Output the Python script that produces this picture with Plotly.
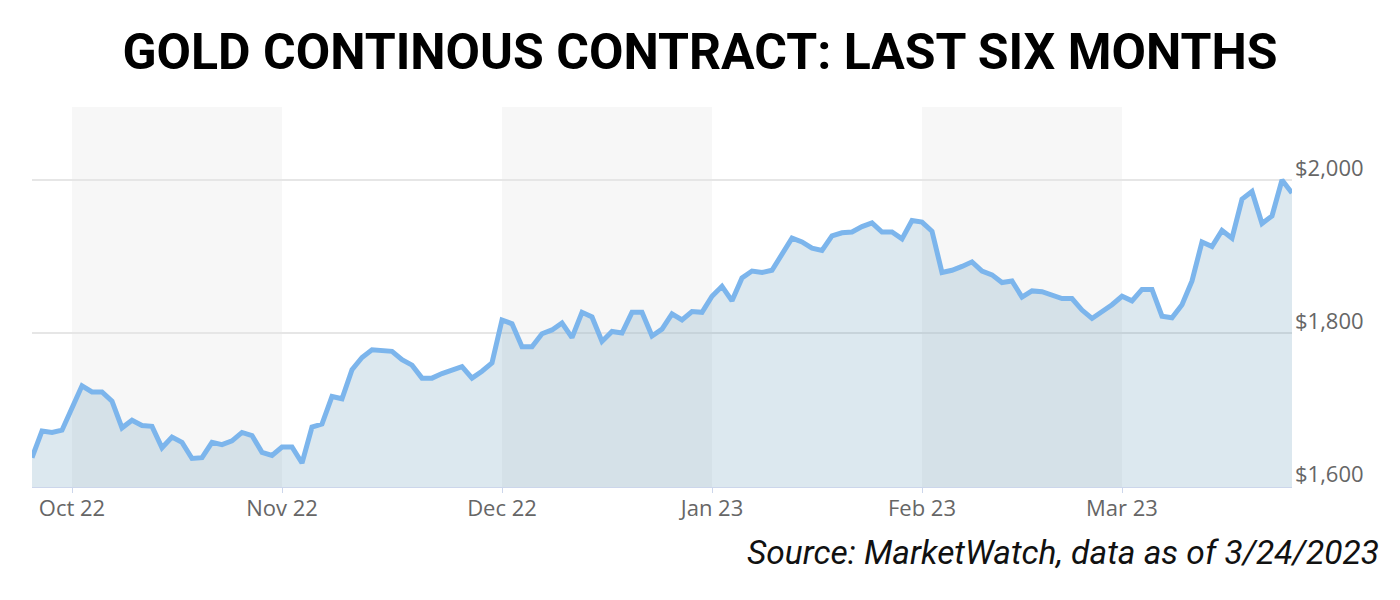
import pandas as pd
import plotly.graph_objects as go

# ---- data ----
start_date = "2022-09-27"
end_date = "2023-03-24"
closed_days = ["2022-12-26", "2023-01-02"]
prices = [
    1637, 1672, 1670, 1673, 1702, 1731, 1723, 1723, 1711, 1676,
    1686, 1679, 1678, 1650, 1664, 1657, 1636, 1637, 1657, 1654,
    1659, 1670, 1666, 1644, 1640, 1651, 1651, 1630, 1677, 1681,
    1717, 1714, 1752, 1768, 1778, 1777, 1776, 1765, 1758, 1741,
    1741, 1747, 1752, 1756, 1741, 1750, 1761, 1817, 1812, 1782,
    1782, 1799, 1804, 1813, 1794, 1827, 1821, 1789, 1802, 1800,
    1827, 1827, 1796, 1805, 1825, 1817, 1828, 1827, 1848, 1861,
    1842, 1872, 1881, 1879, 1882, 1903, 1924, 1919, 1911, 1908,
    1927, 1931, 1932, 1939, 1944, 1932, 1932, 1923, 1947, 1945,
    1933, 1879, 1882, 1887, 1893, 1881, 1876, 1866, 1868, 1847,
    1855, 1854, 1849, 1845, 1845, 1830, 1819, 1828, 1837, 1848,
    1842, 1857, 1857, 1822, 1820, 1837, 1868, 1919, 1913, 1934,
    1924, 1975, 1985, 1943, 1953, 2000, 1983,
]
band_starts = ["2022-10-01", "2022-12-01", "2023-02-01"]
band_ends = ["2022-11-01", "2023-01-03", "2023-03-01"]
y_ticks = [1600, 1800, 2000]

dates = [d for d in pd.bdate_range(start_date, end_date) if d.strftime("%Y-%m-%d") not in closed_days]
assert len(dates) == len(prices), (len(dates), len(prices))

# page has an 8px body margin, so the figure is 8px smaller and everything is offset
W, H = 1392, 592
L, R, T, B = 24, 108, 99, 113
plot_w = W - L - R
plot_h = H - T - B

fig = go.Figure()
fig.add_trace(go.Scatter(
    x=dates, y=prices, mode="lines",
    line=dict(color="#7cb5ec", width=5),
    fill="tozeroy", fillcolor="rgba(50,120,160,0.17)",
    hoverinfo="skip", showlegend=False,
))

for s, e in zip(band_starts, band_ends):
    fig.add_shape(type="rect", xref="x", yref="paper", x0=s, x1=e, y0=0, y1=1,
                  fillcolor="#f7f7f7", line=dict(width=0), layer="below")

fig.update_layout(
    width=W, height=H,
    margin=dict(l=L, r=R, t=T, b=B),
    paper_bgcolor="white", plot_bgcolor="white",
    title=dict(text="GOLD CONTINOUS CONTRACT: LAST SIX MONTHS",
               x=0.5 - 4 / W, xref="container", xanchor="center",
               y=1 - 43 / H, yref="container", yanchor="middle",
               font=dict(family="Roboto", size=50, color="#000000", weight="bold")),
    font=dict(family="Open Sans", color="#666666"),
)

fig.update_xaxes(
    type="date", range=[start_date, end_date],
    rangebreaks=[dict(bounds=["sat", "mon"]), dict(values=closed_days)],
    tick0="2022-10-01", dtick="M1", tickformat="%b %y",
    showgrid=False, zeroline=False,
    showline=True, linecolor="#ccd6eb", linewidth=1,
    ticks="outside", ticklen=5, tickcolor="#ccd6eb", tickwidth=1,
    ticklabelstandoff=-3,
    tickfont=dict(family="Open Sans", size=22, color="#666666"),
)
fig.update_yaxes(
    side="right", range=[1598.7, 2095.4],
    tickvals=y_ticks, tickformat="$,.0f",
    showgrid=True, gridcolor="#e6e6e6", gridwidth=2,
    zeroline=False, showline=False, ticks="",
    ticklabelstandoff=2, ticklabelshift=-12,
    tickfont=dict(family="Open Sans", size=22, color="#666666"),
)

fig.add_annotation(
    text="Source: MarketWatch, data as of 3/24/2023",
    xref="paper", yref="paper", x=1 + (1373 - (W - R)) / plot_w, y=(H - B - 544) / plot_h,
    xanchor="right", yanchor="middle", showarrow=False,
    font=dict(family="Roboto", size=33.5, color="#111111", style="italic"),
)

fig.write_html("out.html")
